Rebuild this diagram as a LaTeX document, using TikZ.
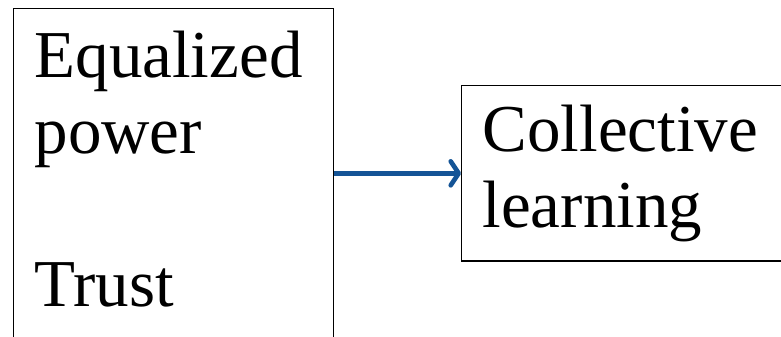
\documentclass[tikz,border=0pt]{standalone}
\usepackage{fontspec}
\setmainfont{Liberation Serif}
\usetikzlibrary{arrows.meta, positioning}
\definecolor{LinkBlue}{RGB}{20, 84, 150}
\tikzset{
  panel/.style={rectangle, draw=black, line width=1.2bp, fill=none,
                inner xsep=21bp, inner ysep=22bp, align=left,
                font=\fontsize{67bp}{76.5bp}\selectfont, text=black},
  arr/.style={-{Straight Barb[length=8bp, width=24bp, line cap=round, line join=round]},
              line width=4.6bp, color=#1},
}

\begin{document}
\begin{tikzpicture}[x=1bp, y=1bp]
  \useasboundingbox (0,0) rectangle (781,336);
  % tall box on the left runs off the bottom edge
  \node[panel, text width=278bp, anchor=north west] (ideas) at (13,328)
       {Equalized\\power\\[76.5bp]Trust\rule[-40bp]{0pt}{40bp}};
  % box on the right runs off the right edge
  \node[panel, inner ysep=19bp, text width=296bp, anchor=north west] (goal) at (461,251)
       {Collective\\learning};
  \draw[arr=LinkBlue] (goal.west -| ideas.east) -- (goal.west);
\end{tikzpicture}
\end{document}
